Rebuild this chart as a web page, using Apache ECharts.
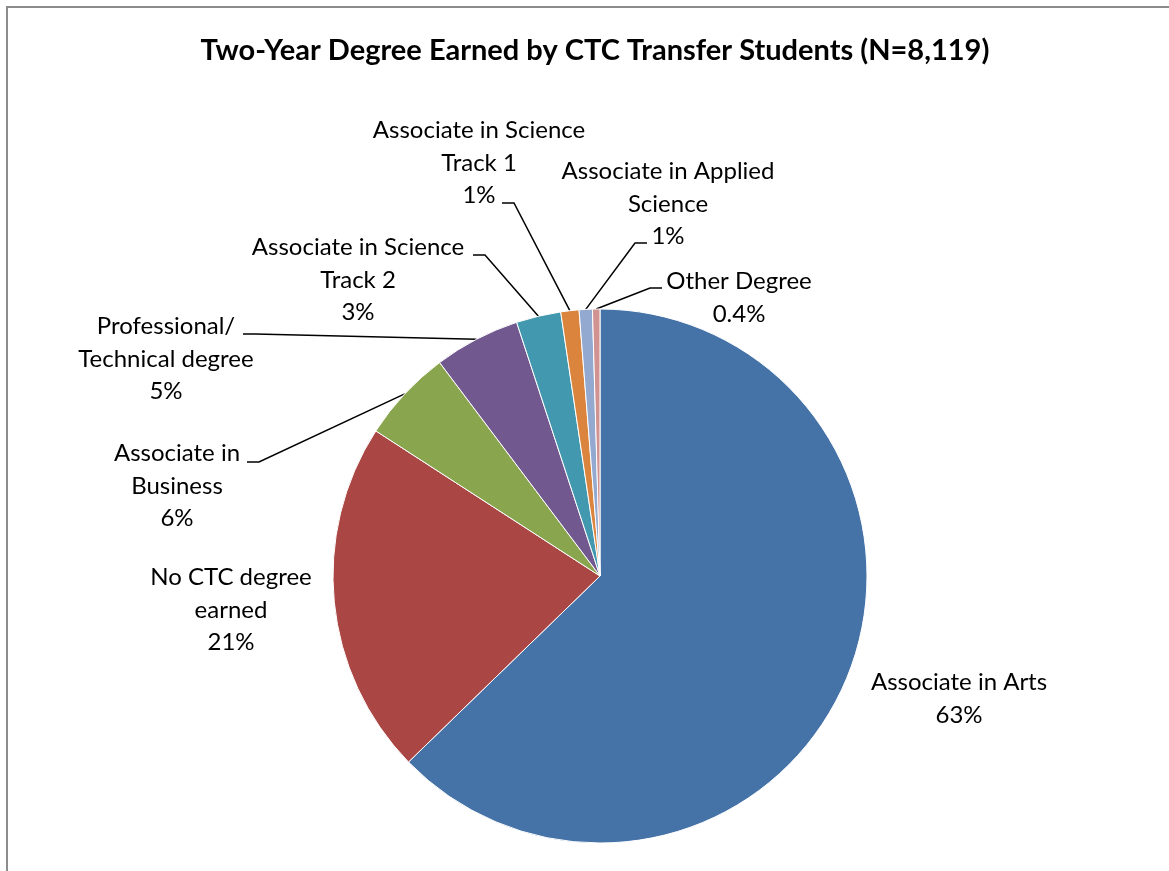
<!DOCTYPE html>
<html>
<head>
<meta charset="utf-8">
<script src="https://cdn.jsdelivr.net/npm/echarts@6/dist/echarts.min.js"></script>
<style>
  html, body { margin: 0; padding: 0; background: #fff; overflow: hidden; }
  #frame { position: absolute; left: 6px; top: 6px; width: 2000px; height: 2000px;
           border-left: 2px solid #8c8c8c; border-top: 2px solid #8c8c8c; }
  #pieChart { position: absolute; left: 0; top: 0; width: 1169px; height: 871px; }
</style>
</head>
<body>
<div id="frame"></div>
<div id="pieChart"></div>
<script>
// slice data, clockwise from 12 o'clock
const categories = [
  'Associate in Arts',
  'No CTC degree\nearned',
  'Associate in\nBusiness',
  'Professional/\nTechnical degree',
  'Associate in Science\nTrack 2',
  'Associate in Science\nTrack 1',
  'Associate in Applied\nScience',
  'Other Degree'
];
const shares = [62.7, 21.4, 5.6, 5.2, 2.7, 1.1, 0.8, 0.45];
const shareLabels = ['63%', '21%', '6%', '5%', '3%', '1%', '1%', '0.4%'];
const colors = ['#4572A7', '#AA4643', '#89A54E', '#71588F', '#4198AF', '#DB843D', '#93A9CF', '#D19392'];

// where each label block sits (centre x, centre y) and where its leader meets the text
const labelCenters = [[959, 699], [231, 610], [177, 486], [166, 359], [358, 280], [479, 163], [668, 204], [739, 298]];
const leaderEnds = [null, null, [247, 462], [243, 334], [473, 255], [502, 203], [647, 243], [662, 288]];

const chartDom = document.getElementById('pieChart');
const myChart = echarts.init(chartDom);

const option = {
  animation: false,
  title: {
    text: 'Two-Year Degree Earned by CTC Transfer Students (N=8,119)',
    left: 590,
    top: 31,
    textAlign: 'center',
    textStyle: {
      fontFamily: 'Lato',
      fontWeight: 'bold',
      fontSize: 29,
      color: '#000'
    }
  },
  series: [
    {
      type: 'pie',
      center: [600, 576],
      radius: 267,
      startAngle: 90,
      clockwise: true,
      avoidLabelOverlap: false,
      itemStyle: {
        borderColor: '#ffffff',
        borderWidth: 1
      },
      label: {
        show: true,
        position: 'outside',
        fontFamily: 'Lato',
        fontSize: 24,
        lineHeight: 32.5,
        color: '#000',
        formatter: (p) => p.name + '\n' + shareLabels[p.dataIndex]
      },
      labelLine: {
        show: true,
        length: 20,
        length2: 20,
        lineStyle: { color: '#000', width: 1.5 }
      },
      labelLayout: (params) => {
        const i = params.dataIndex;
        const c = labelCenters[i];
        const out = { x: c[0], y: c[1], align: 'center', verticalAlign: 'middle' };
        const end = leaderEnds[i];
        if (end && params.labelLinePoints) {
          const anchor = params.labelLinePoints[0];
          const dir = anchor[0] > end[0] ? 1 : -1;
          out.labelLinePoints = [anchor, [end[0] + dir * 12, end[1]], end];
        }
        return out;
      },
      emphasis: { disabled: true },
      data: categories.map((name, i) => ({
        name: name,
        value: shares[i],
        itemStyle: { color: colors[i] },
        labelLine: { show: leaderEnds[i] !== null }
      }))
    }
  ]
};

option && myChart.setOption(option);
</script>
</body>
</html>
